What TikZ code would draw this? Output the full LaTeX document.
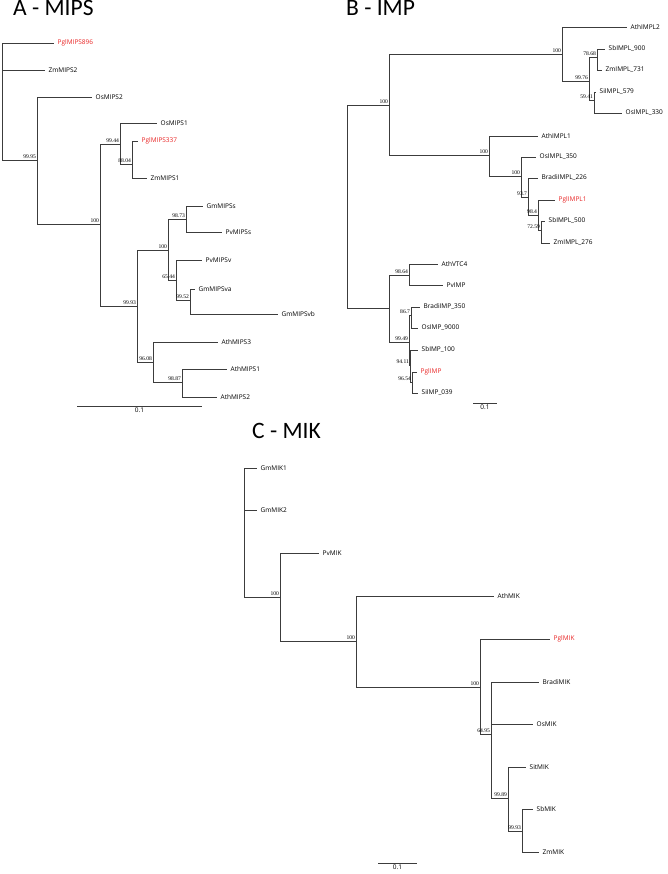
\documentclass[tikz,border=0pt]{standalone}
\usepackage{fontspec}
\setmainfont{Open Sans}
\newfontfamily\titlefont{Carlito}
\newfontfamily\bootfont{Liberation Serif}
\usepackage{tikz}
\usetikzlibrary{positioning}
\usetikzlibrary{calc}
\definecolor{pgred}{RGB}{232,36,36}
\definecolor{branchgray}{RGB}{60,60,60}

\begin{document}
\begin{tikzpicture}[x=1pt,y=-1pt,
    branch/.style={draw=branchgray,line width=0.7pt},
    leaf/.style={anchor=west,inner xsep=3.5pt,inner ysep=0pt,font=\fontsize{6.5}{7}\selectfont},
    ours/.style={leaf,text=pgred},
    boot/.style={anchor=south east,inner sep=0.8pt,font=\bootfont\fontsize{5.6}{6}\selectfont},
    paneltitle/.style={anchor=base west,inner sep=0pt,font=\titlefont\fontsize{23.5}{27}\selectfont}]
  \useasboundingbox (0,0) rectangle (667,874);

  % panel titles
  \node[paneltitle] (tA) at (13,16) {A - MIPS};
  \node[paneltitle] (tB) at (346,16) {B - IMP};
  \node[paneltitle] (tC) at (252,438) {C - MIK};

  % ---------------- A - MIPS ----------------
  \coordinate (aR) at (2,100);
  \coordinate (a1) at (37,160);
  \coordinate (a2) at (100,224);
  \coordinate (a3) at (120,144);
  \coordinate (a4) at (132,164);
  \coordinate (a6) at (137,306);
  \coordinate (a7) at (168,250);
  \coordinate (a8) at (186,219);
  \coordinate (a9) at (176,280);
  \coordinate (a9b) at (190,300);
  \coordinate (a10) at (153,362);
  \coordinate (a11) at (182,382);
  \node[ours] (PglMIPS896) at (54,43) {PglMIPS896};
  \node[leaf] (ZmMIPS2) at (45,70) {ZmMIPS2};
  \node[leaf] (OsMIPS2) at (92,97) {OsMIPS2};
  \node[leaf] (OsMIPS1) at (157,123) {OsMIPS1};
  \node[ours] (PglMIPS337) at (138,141) {PglMIPS337};
  \node[leaf] (ZmMIPS1) at (147,178) {ZmMIPS1};
  \node[leaf] (GmMIPSs) at (203,206) {GmMIPSs};
  \node[leaf] (PvMIPSs) at (222,232) {PvMIPSs};
  \node[leaf] (PvMIPSv) at (202,260) {PvMIPSv};
  \node[leaf] (GmMIPSva) at (195,289) {GmMIPSva};
  \node[leaf] (GmMIPSvb) at (278,314) {GmMIPSvb};
  \node[leaf] (AthMIPS3) at (218,342) {AthMIPS3};
  \node[leaf] (AthMIPS1) at (227,369) {AthMIPS1};
  \node[leaf] (AthMIPS2) at (217,397) {AthMIPS2};
  \foreach \p/\c in {aR/a1,a1/a2,a2/a3,a3/a4,a2/a6,a6/a7,a7/a8,a7/a9,a9/a9b,a6/a10,a10/a11}
    \draw[branch] (\p) |- (\c);
  \foreach \p/\c in {aR/PglMIPS896,aR/ZmMIPS2,a1/OsMIPS2,a3/OsMIPS1,a4/PglMIPS337,a4/ZmMIPS1,
                     a8/GmMIPSs,a8/PvMIPSs,a9/PvMIPSv,a9b/GmMIPSva,a9b/GmMIPSvb,
                     a10/AthMIPS3,a11/AthMIPS1,a11/AthMIPS2}
    \draw[branch] (\p) |- (\c.west);
  \foreach \n/\v in {a1/99.95,a2/100,a3/99.44,a4/88.04,a6/99.93,a7/100,a8/98.73,
                     a9/65.44,a9b/99.52,a10/96.08,a11/98.87}
    \node[boot] (bs-\n) at (\n) {\v};
  % scale bar
  \coordinate (sA1) at (77,406);
  \coordinate (sA2) at (202,406);
  \draw[branch] (sA1) -- (sA2);
  \node[leaf,anchor=north,inner sep=1.5pt] (sA) at ($(sA1)!0.5!(sA2)$) {0.1};

  % ---------------- B - IMP ----------------
  \coordinate (bR) at (347,200);
  \coordinate (b1) at (389,105);
  \coordinate (b2) at (562,54);
  \coordinate (b3) at (589,81);
  \coordinate (b4) at (597,57);
  \coordinate (b5) at (594,100);
  \coordinate (b6) at (489,155);
  \coordinate (b7) at (521,176);
  \coordinate (b8) at (528,197);
  \coordinate (b8a) at (538,215);
  \coordinate (b8b) at (541,230);
  \coordinate (b9) at (389,308);
  \coordinate (b10) at (409,275);
  \coordinate (b11) at (409,342);
  \coordinate (b12) at (411,315);
  \coordinate (b13) at (410,365);
  \coordinate (b14) at (412,382);
  \node[leaf] (AthIMPL2) at (627,27) {AthIMPL2};
  \node[leaf] (SbIMPL900) at (605,49) {SbIMPL\_900};
  \node[leaf] (ZmIMPL731) at (602,70) {ZmIMPL\_731};
  \node[leaf] (SiIMPL579) at (596,92) {SiIMPL\_579};
  \node[leaf] (OsIMPL330) at (622,113) {OsIMPL\_330};
  \node[leaf] (AthIMPL1) at (538,136) {AthIMPL1};
  \node[leaf] (OsIMPL350) at (536,157) {OsIMPL\_350};
  \node[leaf] (BradiIMPL226) at (538,178) {BradiIMPL\_226};
  \node[ours] (PglIMPL1) at (555,200) {PglIMPL1};
  \node[leaf] (SbIMPL500) at (545,221) {SbIMPL\_500};
  \node[leaf] (ZmIMPL276) at (550,243) {ZmIMPL\_276};
  \node[leaf] (AthVTC4) at (438,264) {AthVTC4};
  \node[leaf] (PvIMP) at (443,285) {PvIMP};
  \node[leaf] (BradiIMP350) at (420,307) {BradiIMP\_350};
  \node[leaf] (OsIMP9000) at (418,328) {OsIMP\_9000};
  \node[leaf] (SbIMP100) at (418,350) {SbIMP\_100};
  \node[ours] (PglIMP) at (417,372) {PglIMP};
  \node[leaf] (SiIMP039) at (418,393) {SiIMP\_039};
  \foreach \p/\c in {bR/b1,b1/b2,b2/b3,b3/b4,b3/b5,b1/b6,b6/b7,b7/b8,b8/b8a,b8a/b8b,
                     bR/b9,b9/b10,b9/b11,b11/b12,b11/b13,b13/b14}
    \draw[branch] (\p) |- (\c);
  \foreach \p/\c in {b2/AthIMPL2,b4/SbIMPL900,b4/ZmIMPL731,b5/SiIMPL579,b5/OsIMPL330,
                     b6/AthIMPL1,b7/OsIMPL350,b8/BradiIMPL226,b8a/PglIMPL1,b8b/SbIMPL500,b8b/ZmIMPL276,
                     b10/AthVTC4,b10/PvIMP,b12/BradiIMP350,b12/OsIMP9000,b13/SbIMP100,
                     b14/PglIMP,b14/SiIMP039}
    \draw[branch] (\p) |- (\c.west);
  \foreach \n/\v in {b1/100,b2/100,b3/99.76,b4/78.68,b5/59.41,b6/100,b7/100,b8/93.7,
                     b8a/98.4,b8b/72.59,b10/98.64,b11/99.49,b12/86.7,b13/94.11,b14/96.54}
    \node[boot] (bs-\n) at (\n) {\v};
  % scale bar
  \coordinate (sB1) at (473,403);
  \coordinate (sB2) at (497,403);
  \draw[branch] (sB1) -- (sB2);
  \node[leaf,anchor=north,inner sep=1.5pt] (sB) at ($(sB1)!0.5!(sB2)$) {0.1};

  % ---------------- C - MIK ----------------
  \coordinate (cR) at (244,530);
  \coordinate (c1) at (280,597);
  \coordinate (c2) at (356,641);
  \coordinate (c3) at (480,687);
  \coordinate (c4) at (491,734);
  \coordinate (c5) at (508,798);
  \coordinate (c6) at (522,831);
  \node[leaf] (GmMIK1) at (257,468) {GmMIK1};
  \node[leaf] (GmMIK2) at (257,510) {GmMIK2};
  \node[leaf] (PvMIK) at (319,553) {PvMIK};
  \node[leaf] (AthMIK) at (494,596) {AthMIK};
  \node[ours] (PglMIK) at (550,639) {PglMIK};
  \node[leaf] (BradiMIK) at (539,682) {BradiMIK};
  \node[leaf] (OsMIK) at (533,724) {OsMIK};
  \node[leaf] (SitMIK) at (526,767) {SitMIK};
  \node[leaf] (SbMIK) at (533,809) {SbMIK};
  \node[leaf] (ZmMIK) at (539,852) {ZmMIK};
  \foreach \p/\c in {cR/c1,c1/c2,c2/c3,c3/c4,c4/c5,c5/c6}
    \draw[branch] (\p) |- (\c);
  \foreach \p/\c in {cR/GmMIK1,cR/GmMIK2,c1/PvMIK,c2/AthMIK,c3/PglMIK,c4/BradiMIK,
                     c4/OsMIK,c5/SitMIK,c6/SbMIK,c6/ZmMIK}
    \draw[branch] (\p) |- (\c.west);
  \foreach \n/\v in {c1/100,c2/100,c3/100,c4/64.95,c5/99.89,c6/99.93}
    \node[boot] (bs-\n) at (\n) {\v};
  % scale bar
  \coordinate (sC1) at (378,863);
  \coordinate (sC2) at (417,863);
  \draw[branch] (sC1) -- (sC2);
  \node[leaf,anchor=north,inner sep=1.5pt] (sC) at ($(sC1)!0.5!(sC2)$) {0.1};
\end{tikzpicture}
\end{document}
